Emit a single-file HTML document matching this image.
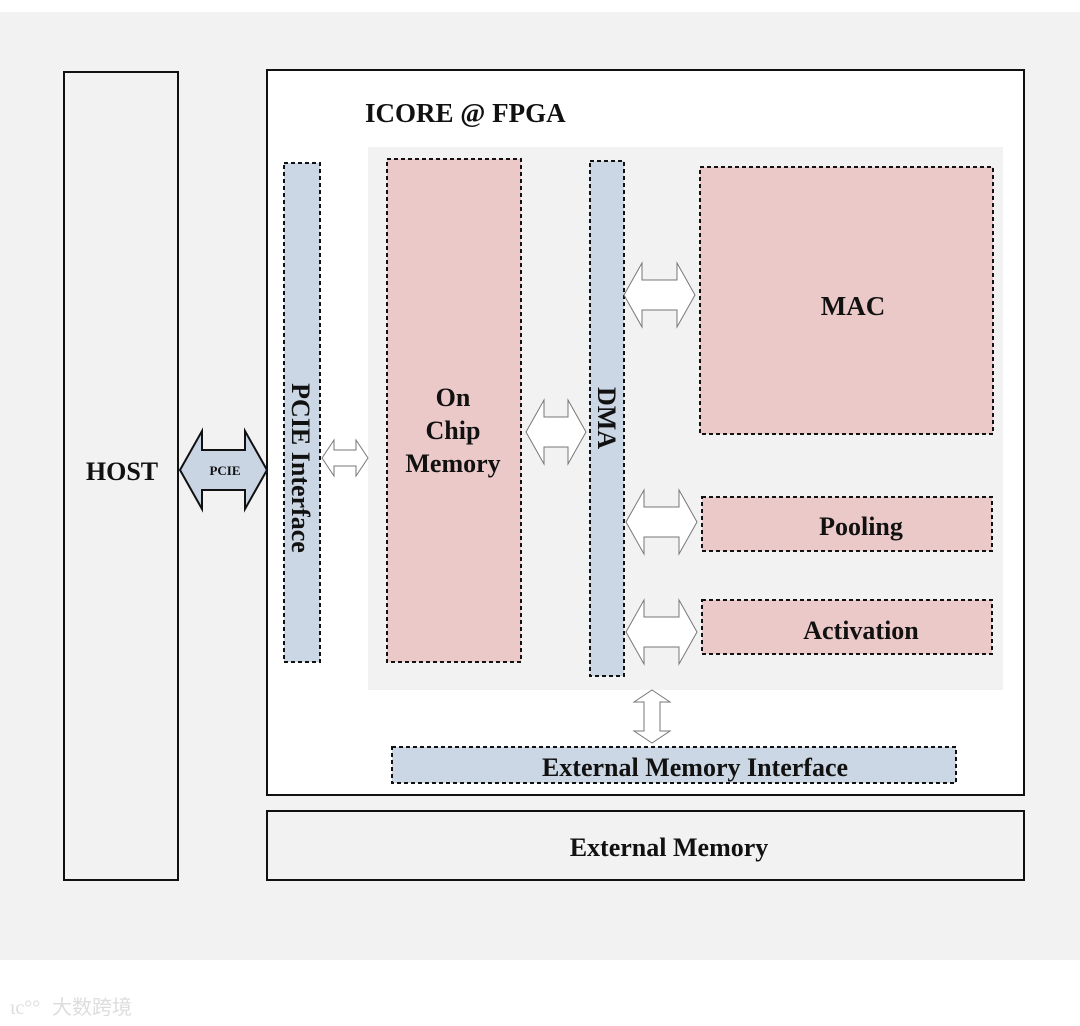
<!DOCTYPE html><html><head><meta charset="utf-8"><style>body{margin:0;background:#fff}svg{display:block}text{font-family:"Liberation Serif",serif;font-weight:bold;fill:#111}</style></head><body>
<svg width="1080" height="1026" viewBox="0 0 1080 1026">
<rect x="0" y="12" width="1080" height="948" fill="#f2f2f2"/>
<rect x="64" y="72" width="114" height="808" fill="#f2f2f2" stroke="#111" stroke-width="2"/>
<text x="122" y="480" font-size="26" text-anchor="middle">HOST</text>
<rect x="267" y="70" width="757" height="725" fill="#fff" stroke="#111" stroke-width="2"/>
<text x="365" y="122" font-size="27">ICORE @ FPGA</text>
<rect x="368" y="147" width="635" height="543" fill="#f2f2f2"/>
<rect x="267" y="811" width="757" height="69" fill="#f2f2f2" stroke="#111" stroke-width="2"/>
<text x="669" y="856" font-size="26" text-anchor="middle">External Memory</text>
<g stroke="#111" stroke-width="2" stroke-dasharray="4,3">
<rect x="284" y="163" width="36" height="499" fill="#cbd7e4"/>
<rect x="387" y="159" width="134" height="503" fill="#ecc9c9"/>
<rect x="590" y="161" width="34" height="515" fill="#cbd7e4"/>
<rect x="700" y="167" width="293" height="267" fill="#ecc9c9"/>
<rect x="702" y="497" width="290" height="54" fill="#ecc9c9"/>
<rect x="702" y="600" width="290" height="54" fill="#ecc9c9"/>
<rect x="392" y="747" width="564" height="36" fill="#cbd7e4"/>
</g>
<text font-size="26" text-anchor="middle" transform="translate(292,468) rotate(90)">PCIE Interface</text>
<text font-size="26" text-anchor="middle" transform="translate(598,418) rotate(90)">DMA</text>
<text x="453" y="406" font-size="26" text-anchor="middle">On</text>
<text x="453" y="439" font-size="26" text-anchor="middle">Chip</text>
<text x="453" y="472" font-size="26" text-anchor="middle">Memory</text>
<text x="853" y="315" font-size="27" text-anchor="middle">MAC</text>
<text x="861" y="535" font-size="26" text-anchor="middle">Pooling</text>
<text x="861" y="639" font-size="26" text-anchor="middle">Activation</text>
<text x="695" y="776" font-size="26" text-anchor="middle">External Memory Interface</text>
<path d="M180,470 L202,431 L202,450 L245,450 L245,431 L267,470 L245,509 L245,490 L202,490 L202,509 Z" fill="#c9d5e3" stroke="#111" stroke-width="2"/>
<text x="225" y="475" font-size="13" text-anchor="middle">PCIE</text>
<g fill="#fff" stroke="#777" stroke-width="1">
<path d="M322,458 L334,440 L334,450 L356,450 L356,440 L368,458 L356,476 L356,466 L334,466 L334,476 Z"/>
<path d="M526,432 L544,400 L544,417 L568,417 L568,400 L586,432 L568,464 L568,447 L544,447 L544,464 Z"/>
<path d="M624,295 L642,263 L642,280 L677,280 L677,263 L695,295 L677,327 L677,310 L642,310 L642,327 Z"/>
<path d="M626,522 L644,490 L644,507 L679,507 L679,490 L697,522 L679,554 L679,537 L644,537 L644,554 Z"/>
<path d="M626,632 L644,600 L644,617 L679,617 L679,600 L697,632 L679,664 L679,647 L644,647 L644,664 Z"/>
<path d="M652,690 L670,702 L660,702 L660,731 L670,731 L652,743 L634,731 L644,731 L644,702 L634,702 Z"/>
</g>
<text x="52" y="1014" font-size="20" style="fill:#ddd;font-family:'Noto Sans CJK SC',sans-serif;font-weight:normal">大数跨境</text>
<text x="10" y="1014" font-size="20" style="fill:#ddd;font-weight:normal">ιc°°</text>
</svg></body></html>
